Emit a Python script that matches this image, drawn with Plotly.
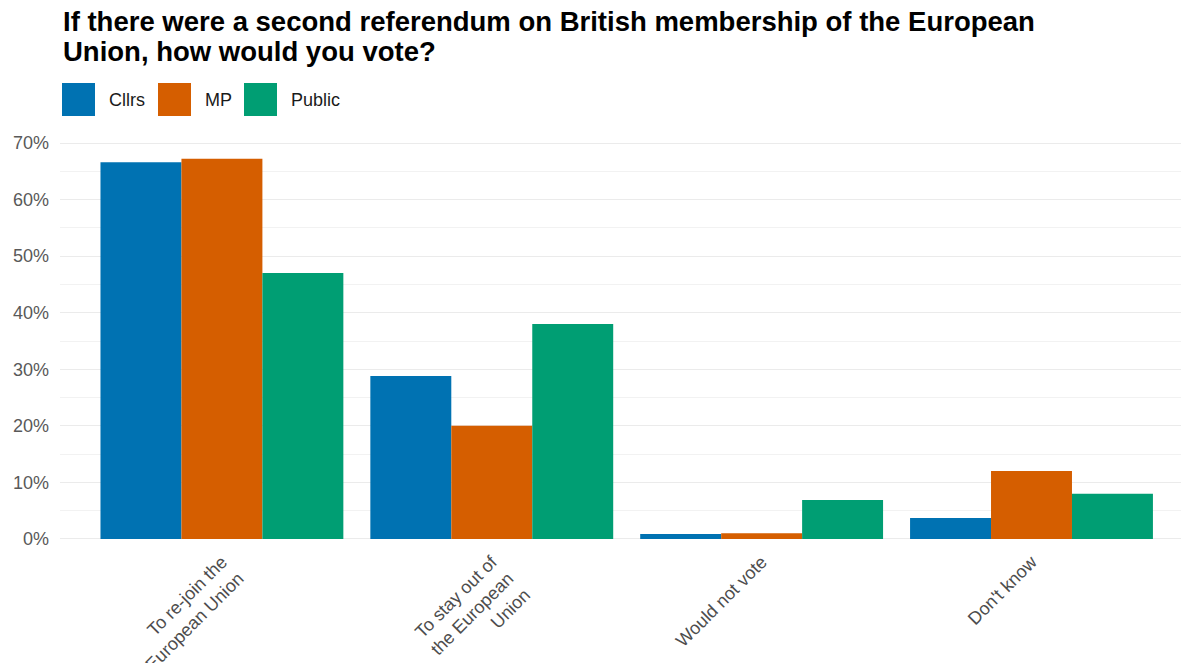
import plotly.graph_objects as go

categories = ["To re-join the<br>European Union", "To stay out of<br>the European<br>Union", "Would not vote", "Don't know"]
series_names = ["Cllrs", "MP", "Public"]
cllrs = [66.6, 28.8, 0.9, 3.7]
mp = [67.2, 20.0, 1.0, 12.0]
public = [47.0, 38.0, 6.9, 8.0]
y_ticks = [0, 10, 20, 30, 40, 50, 60, 70]
y_tick_labels = [f"{v}%" for v in y_ticks]
title_lines = ["If there were a second referendum on British membership of the European",
               "Union, how would you vote?"]

colors = {"Cllrs": "#0072B2", "MP": "#D55E00", "Public": "#009E73"}
values = {"Cllrs": cllrs, "MP": mp, "Public": public}

W, H = 1181, 663
ML, MR, MT, MB = 60, 0, 130, 108
PW, PH = W - ML - MR, H - MT - MB
FONT = "Liberation Sans, Arial, sans-serif"

fig = go.Figure()
for name in series_names:
    fig.add_trace(go.Bar(
        x=list(range(len(categories))), y=values[name], name=name,
        marker=dict(color=colors[name], line=dict(width=0)),
        showlegend=False, hoverinfo="skip",
    ))

def px_x(p):
    return (p - ML) / PW
def px_y(p):
    return 1 - (p - MT) / PH

shapes, annotations = [], []
# title as two lines for tighter line spacing
for line, yc in zip(title_lines, [21.5, 51.5]):
    annotations.append(dict(text=f"<b>{line}</b>", xref="paper", yref="paper",
                            x=px_x(61), y=px_y(yc), xanchor="left", yanchor="middle",
                            showarrow=False, font=dict(size=27.5, color="#000000", family=FONT)))

# legend drawn as key boxes + labels
legend_keys = [(62, 107), (158, 203), (244, 289)]
for name, (kx, tx) in zip(series_names, legend_keys):
    shapes.append(dict(type="rect", xref="paper", yref="paper",
                       x0=px_x(kx), x1=px_x(kx + 33), y0=px_y(83), y1=px_y(116),
                       fillcolor=colors[name], line=dict(width=0)))
    annotations.append(dict(text=name, xref="paper", yref="paper",
                            x=px_x(tx), y=px_y(100), xanchor="left", yanchor="middle",
                            showarrow=False, font=dict(size=18, color="#1A1A1A", family=FONT)))

fig.update_layout(
    width=W, height=H,
    margin=dict(l=ML, r=MR, t=MT, b=MB),
    paper_bgcolor="white", plot_bgcolor="white",
    barmode="group", bargap=0.1, bargroupgap=0,
    font=dict(family=FONT, color="#4D4D4D"),
    xaxis=dict(
        tickmode="array", tickvals=list(range(len(categories))), ticktext=categories,
        range=[-0.6, 3.554], tickangle=-45, showgrid=False, zeroline=False,
        showline=False, ticks="", tickfont=dict(size=18, color="#4D4D4D"),
        automargin=False, ticklabelstandoff=-8,
    ),
    yaxis=dict(
        range=[-2.83, 72.3], tickmode="array", tickvals=y_ticks, ticktext=y_tick_labels,
        showgrid=True, gridcolor="#EBEBEB", gridwidth=1.2,
        minor=dict(tickmode="array", tickvals=[5, 15, 25, 35, 45, 55, 65], showgrid=True,
                   gridcolor="#F2F2F2", gridwidth=1, ticks=""),
        zeroline=False, showline=False, ticks="", ticklabelstandoff=10,
        tickfont=dict(size=18, color="#595959"), automargin=False,
    ),
    shapes=shapes, annotations=annotations,
)

fig.write_html("out.html", config={"displayModeBar": False})

# remove default page margin so the figure sits at the window's top-left corner
with open("out.html", encoding="utf-8") as f:
    html = f.read()
html = html.replace("<body>", '<body style="margin:0;padding:0">', 1)
with open("out.html", "w", encoding="utf-8") as f:
    f.write(html)
